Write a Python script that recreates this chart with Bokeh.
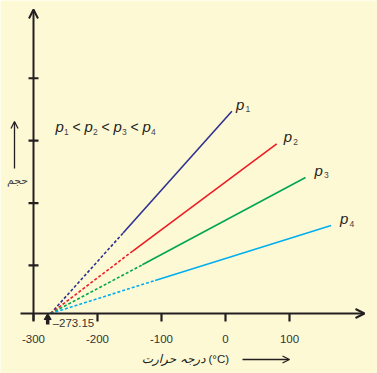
from bokeh.plotting import figure
from bokeh.models import Range1d, Arrow, OpenHead
from bokeh.core.properties import value
from bokeh.embed import file_html
from bokeh.resources import INLINE

# ---------------- data ----------------
ABS_ZERO = -273.15
SUBS = ["1", "2", "3", "4"]
COLORS = ["#2E3192", "#ED1C24", "#00A651", "#00AEEF"]
T_DASH_END = [-160, -145, -130, -110]      # where the extrapolated (dashed) part ends
V_DASH_END = [1.29, 1.00, 0.78, 0.53]
T_END = [10, 80, 125, 165]                 # measured end of each line
V_END = [3.24, 2.72, 2.18, 1.41]
X_TICKS = [-300, -200, -100, 0, 100]
X_TICK_LABELS = ["-300", "-200", "-100", "0", "100"]
Y_TICKS = [0.77, 1.77, 2.77, 3.77]
ABS_ZERO_LABEL = "\u2013273.15"
X_TITLE = "درجہ حرارت"
X_UNIT = "(°C)"
Y_TITLE = "حجم"

# ---------------- layout helpers ----------------
W, H = 377, 373
X0_PX, PX_PER_DEG = 33, 0.64
Y0_PX, PX_PER_V = 313, 62.4
BG = "#FEF9D5"
AX = "#231F20"
FONT = value("Liberation Sans")


def px_x(px):
    return -300 + (px - X0_PX) / PX_PER_DEG


def px_y(py):
    return (Y0_PX - py) / PX_PER_V


def dx(d):
    return d / PX_PER_DEG


def dy(d):
    return d / PX_PER_V


p = figure(width=W, height=H, x_range=Range1d(px_x(0), px_x(W)),
           y_range=Range1d(px_y(H), px_y(0)),
           x_axis_type=None, y_axis_type=None,
           toolbar_location=None, output_backend="svg", min_border=0,
           background_fill_color=BG, border_fill_color=BG, outline_line_color=None)
p.grid.visible = False

# ---------------- axes ----------------
p.add_layout(Arrow(end=OpenHead(size=9, line_width=2, line_color=AX),
                   x_start=px_x(20), y_start=0, x_end=px_x(364), y_end=0,
                   line_width=2, line_color=AX))
p.add_layout(Arrow(end=OpenHead(size=9, line_width=2, line_color=AX),
                   x_start=-300, y_start=px_y(320), x_end=-300, y_end=px_y(9),
                   line_width=2, line_color=AX))
# x ticks
p.segment(x0=X_TICKS, y0=[0] * len(X_TICKS), x1=X_TICKS, y1=[-dy(8)] * len(X_TICKS),
          line_width=2.2, line_color=AX)
p.text(x=X_TICKS, y=[px_y(338)] * len(X_TICKS), text=X_TICK_LABELS,
       text_font=FONT, text_font_size="11.5px", text_align="center",
       text_baseline="middle", text_color="#333333")
# y ticks
p.segment(x0=[-300 - dx(5)] * len(Y_TICKS), y0=Y_TICKS,
          x1=[-300 + dx(5)] * len(Y_TICKS), y1=Y_TICKS,
          line_width=2.2, line_color=AX)

# absolute zero marker
p.scatter(x=[ABS_ZERO - dx(3)], y=[-dy(4)], marker="triangle", size=7,
          fill_color=AX, line_color=AX)
p.segment(x0=[ABS_ZERO - dx(3)], y0=[-dy(6)], x1=[ABS_ZERO - dx(3)], y1=[-dy(11)],
          line_width=3.5, line_color=AX)
p.text(x=[ABS_ZERO + dx(2)], y=[-dy(9)], text=[ABS_ZERO_LABEL], text_font=FONT,
       text_font_size="11.5px", text_align="left", text_baseline="middle",
       text_color="#333333")

# ---------------- lines ----------------
for i in range(len(T_END)):
    p.line([ABS_ZERO, T_DASH_END[i]], [0, V_DASH_END[i]], line_color=COLORS[i],
           line_width=1.6, line_dash="3 2")
    p.line([T_DASH_END[i], T_END[i]], [V_DASH_END[i], V_END[i]],
           line_color=COLORS[i], line_width=1.6)

# line labels
LABEL_GAP = [4, 7, 9, 9]
for i in range(len(T_END)):
    lx = T_END[i] + dx(LABEL_GAP[i])
    ly = V_END[i] + dy(7)
    p.text(x=[lx], y=[ly], text=["p"], text_font=FONT, text_font_style="italic",
           text_font_size="15px", text_align="left", text_baseline="alphabetic",
           text_color=AX)
    p.text(x=[lx + dx(9.5)], y=[ly - dy(5)], text=[SUBS[i]], text_font=FONT,
           text_font_size="8.5px", text_align="left", text_baseline="alphabetic",
           text_color="#444444")

# relation  p1 < p2 < p3 < p4
base_y = px_y(126)
x_cur = 55
for i, s in enumerate(SUBS):
    p.text(x=[px_x(x_cur)], y=[base_y], text=["p"], text_font=FONT,
           text_font_style="italic", text_font_size="15px", text_align="left",
           text_baseline="alphabetic", text_color=AX)
    p.text(x=[px_x(x_cur + 8.5)], y=[base_y - dy(5)], text=[s], text_font=FONT,
           text_font_size="8.5px", text_align="left", text_baseline="alphabetic",
           text_color="#444444")
    if i < len(SUBS) - 1:
        p.text(x=[px_x(x_cur + 21)], y=[base_y], text=["<"], text_font=FONT,
               text_font_size="14px", text_align="center",
               text_baseline="alphabetic", text_color=AX)
    x_cur += 29

# axis titles
p.text(x=[px_x(205)], y=[px_y(358)], text=[X_TITLE], text_font=value("DejaVu Sans"),
       text_font_size="12px", text_font_style="italic", text_align="right",
       text_baseline="middle", text_color=AX)
p.text(x=[px_x(208)], y=[px_y(358)], text=[X_UNIT], text_font=FONT,
       text_font_size="11.5px", text_align="left", text_baseline="middle",
       text_color=AX)
p.add_layout(Arrow(end=OpenHead(size=7, line_width=1.3, line_color=AX),
                   x_start=px_x(242), y_start=px_y(359), x_end=px_x(289),
                   y_end=px_y(359), line_width=1.3, line_color=AX))

p.text(x=[px_x(17)], y=[px_y(180)], text=[Y_TITLE], text_font=value("DejaVu Sans"),
       text_font_size="11px", text_align="center", text_baseline="middle",
       text_color="#444444")
p.add_layout(Arrow(end=OpenHead(size=7, line_width=1.3, line_color=AX),
                   x_start=px_x(14), y_start=px_y(168), x_end=px_x(14),
                   y_end=px_y(121), line_width=1.3, line_color=AX))

open("out.html", "w").write(file_html(p, INLINE))
